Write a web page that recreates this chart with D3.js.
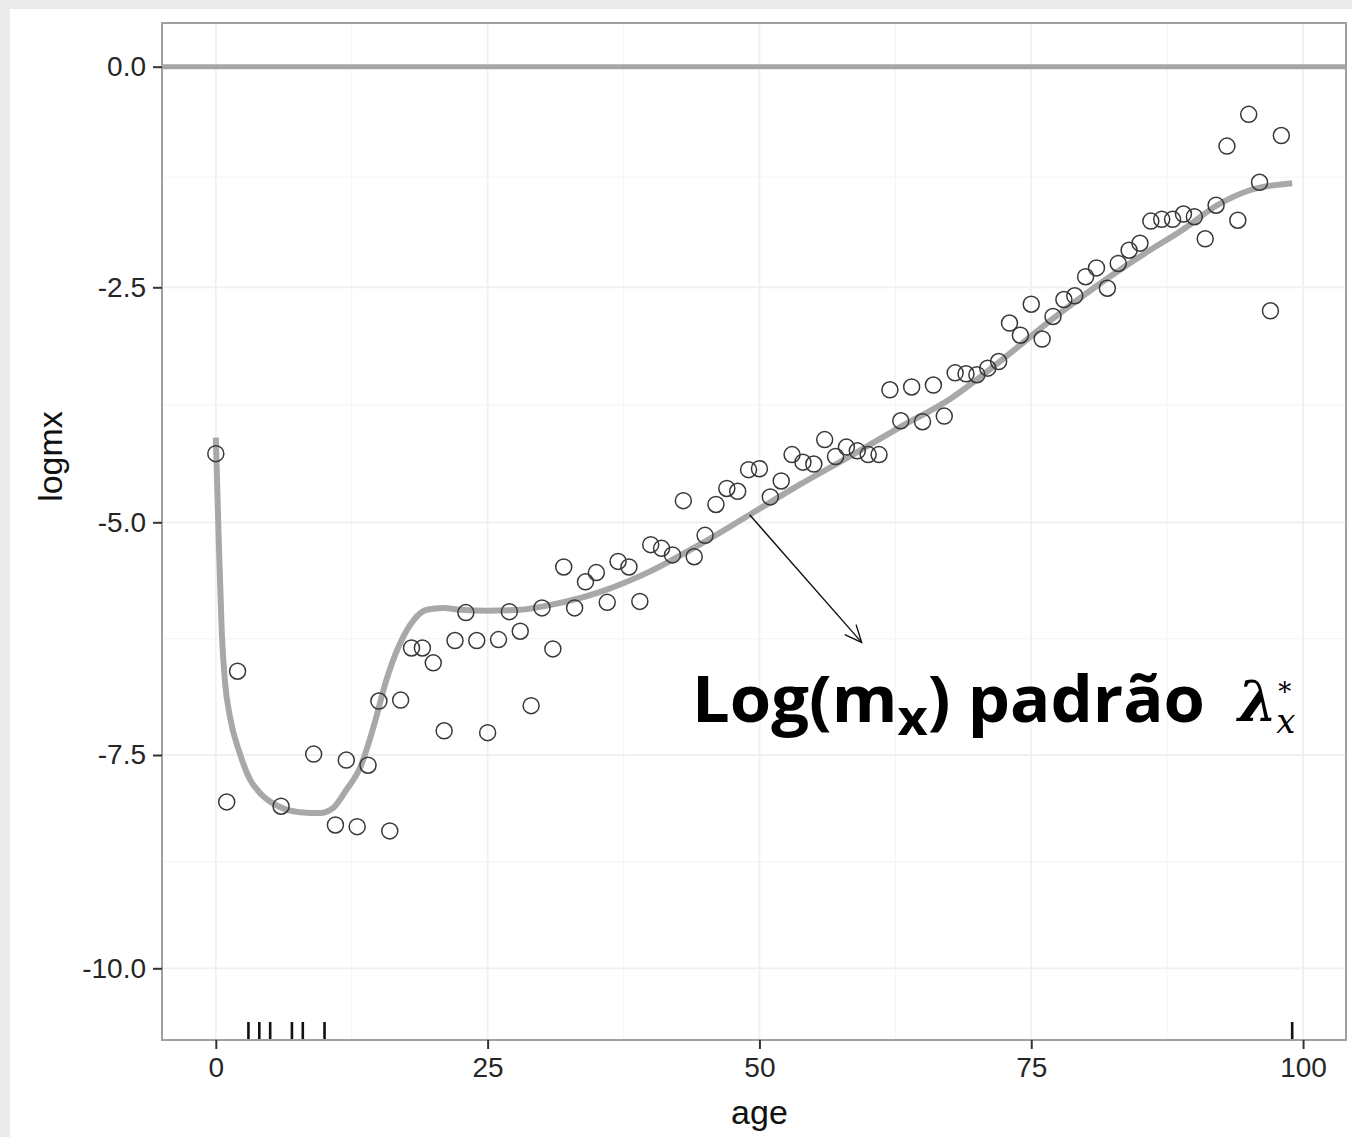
<!DOCTYPE html>
<html>
<head>
<meta charset="utf-8">
<script src="https://cdn.jsdelivr.net/npm/d3@7"></script>
<style>
  html, body { margin: 0; padding: 0; background: #ebebeb; }
  svg { display: block; }
</style>
</head>
<body>
<svg id="chart" width="1352" height="1137"></svg>
<script>
// Observed log death rates by single year of age (ages with zero deaths are shown as a rug)
const ages = [0, 1, 2, 6, 9,
  11, 12, 13, 14, 15, 16, 17, 18, 19, 20,
  21, 22, 23, 24, 25, 26, 27, 28, 29, 30,
  31, 32, 33, 34, 35, 36, 37, 38, 39, 40,
  41, 42, 43, 44, 45, 46, 47, 48, 49, 50,
  51, 52, 53, 54, 55, 56, 57, 58, 59, 60,
  61, 62, 63, 64, 65, 66, 67, 68, 69, 70,
  71, 72, 73, 74, 75, 76, 77, 78, 79, 80,
  81, 82, 83, 84, 85, 86, 87, 88, 89, 90,
  91, 92, 93, 94, 95, 96, 97, 98];
const logmx = [-4.27, -8.05, -6.60, -8.10, -7.49,
  -8.32, -7.56, -8.34, -7.62, -6.92, -8.39, -6.91, -6.35, -6.35, -6.51,
  -7.24, -6.27, -5.97, -6.27, -7.26, -6.26, -5.96, -6.17, -6.97, -5.92,
  -6.36, -5.48, -5.92, -5.64, -5.54, -5.86, -5.42, -5.48, -5.85, -5.24,
  -5.28, -5.35, -4.77, -5.37, -5.14, -4.81, -4.64, -4.67, -4.44, -4.43,
  -4.73, -4.56, -4.28, -4.36, -4.38, -4.12, -4.30, -4.20, -4.24, -4.28,
  -4.28, -3.59, -3.92, -3.56, -3.93, -3.54, -3.87, -3.41, -3.42, -3.43,
  -3.36, -3.29, -2.88, -3.01, -2.68, -3.05, -2.81, -2.63, -2.59, -2.38,
  -2.28, -2.51, -2.23, -2.08, -2.00, -1.75, -1.73, -1.73, -1.67, -1.70,
  -1.95, -1.57, -0.90, -1.74, -0.54, -1.31, -2.75, -0.78];

// Ages with no recorded deaths (log rate is -Inf)
const rugAges = [3, 4, 5, 7, 8, 10, 99];

// Standard (smoothed) log mortality schedule
const smoothAge = [0, 0.25, 0.55, 0.85, 1.3, 2.2, 3.15, 4.1, 5.9, 7.75, 9.6, 10.8,
  12, 13.3, 14.5, 15.7, 16.95, 18.2, 19.4, 20.9, 22.5, 25, 28, 30.7, 35.3,
  39.9, 44.5, 49.1, 53.7, 58.3, 62.9, 67.5, 72.1, 76.7, 81.3, 85.9, 88.9,
  92.1, 95.1, 99];
const smoothFit = [-4.10, -5.11, -6.19, -6.72, -7.09, -7.48, -7.79, -7.95, -8.11, -8.17, -8.18, -8.12,
  -7.91, -7.64, -7.20, -6.69, -6.30, -6.05, -5.94, -5.92, -5.94, -5.95, -5.94, -5.89, -5.75,
  -5.53, -5.24, -4.92, -4.60, -4.30, -3.99, -3.69, -3.29, -2.86, -2.46, -2.08, -1.85,
  -1.57, -1.40, -1.32];

const xTicks = [0, 25, 50, 75, 100];
const xMinor = [12.5, 37.5, 62.5, 87.5];
const yTicks = [0, -2.5, -5, -7.5, -10];
const yMinor = [-1.25, -3.75, -6.25, -8.75];
const refLevel = 0;

// Annotation anchors in data units
const arrowFrom = [49.1, -4.92];
const arrowTo = [59.4, -6.29];
const labelAt = [43.8, -7.15];

const svg = d3.select("#chart");

// white plate
svg.append("rect").attr("x", 10).attr("y", 9).attr("width", 1342).attr("height", 1128).attr("fill", "#ffffff");

const plot = { left: 162, right: 1346, top: 23, bottom: 1040 };

const x = d3.scaleLinear().domain([-4.95, 103.95]).range([plot.left, plot.right]);
const y = d3.scaleLinear()
  .domain([0.5, 0, -2.5, -5, -7.5, -10, -10.85])
  .range([plot.top, 66.7, 287.3, 522.3, 755, 968.3, plot.bottom]);

// grid
const grid = svg.append("g");
grid.selectAll(".vmin").data(xMinor).join("line")
  .attr("x1", d => x(d)).attr("x2", d => x(d)).attr("y1", plot.top).attr("y2", plot.bottom)
  .attr("stroke", "#f5f5f5").attr("stroke-width", 1.2);
grid.selectAll(".hmin").data(yMinor).join("line")
  .attr("y1", d => y(d)).attr("y2", d => y(d)).attr("x1", plot.left).attr("x2", plot.right)
  .attr("stroke", "#f5f5f5").attr("stroke-width", 1.2);
grid.selectAll(".vmaj").data(xTicks).join("line")
  .attr("x1", d => x(d)).attr("x2", d => x(d)).attr("y1", plot.top).attr("y2", plot.bottom)
  .attr("stroke", "#f0f0f0").attr("stroke-width", 1.8);
grid.selectAll(".hmaj").data(yTicks).join("line")
  .attr("y1", d => y(d)).attr("y2", d => y(d)).attr("x1", plot.left).attr("x2", plot.right)
  .attr("stroke", "#f0f0f0").attr("stroke-width", 1.8);

// reference line at zero
svg.append("line")
  .attr("x1", plot.left).attr("x2", plot.right)
  .attr("y1", y(refLevel)).attr("y2", y(refLevel))
  .attr("stroke", "#a6a6a6").attr("stroke-width", 5);

// smoothed schedule
const line = d3.line().x(d => x(d[0])).y(d => y(d[1])).curve(d3.curveMonotoneX);
svg.append("path")
  .datum(smoothAge.map((a, i) => [a, smoothFit[i]]))
  .attr("d", line)
  .attr("fill", "none")
  .attr("stroke", "#a8a8a8")
  .attr("stroke-width", 6);

// observed points
svg.append("g").selectAll("circle")
  .data(ages.map((a, i) => [a, logmx[i]]))
  .join("circle")
  .attr("cx", d => x(d[0])).attr("cy", d => y(d[1]))
  .attr("r", 8)
  .attr("fill", "none")
  .attr("stroke", "#383838")
  .attr("stroke-width", 1.5);

// rug for zero-death ages
svg.append("g").selectAll("line")
  .data(rugAges).join("line")
  .attr("x1", d => x(d)).attr("x2", d => x(d))
  .attr("y1", plot.bottom).attr("y2", plot.bottom - 18)
  .attr("stroke", "#111").attr("stroke-width", 2.6);

// panel border
svg.append("rect")
  .attr("x", plot.left).attr("y", plot.top)
  .attr("width", plot.right - plot.left).attr("height", plot.bottom - plot.top)
  .attr("fill", "none").attr("stroke", "#a0a0a0").attr("stroke-width", 2);

// axes
const fontAxis = "'Liberation Sans', Arial, sans-serif";
const xAxis = svg.append("g").attr("transform", `translate(0,${plot.bottom})`)
  .call(d3.axisBottom(x).tickValues(xTicks).tickSize(9).tickPadding(8).tickFormat(d3.format("d")));
const yAxis = svg.append("g").attr("transform", `translate(${plot.left},0)`)
  .call(d3.axisLeft(y).tickValues(yTicks).tickSize(9).tickPadding(7).tickFormat(d => d.toFixed(1)));
[xAxis, yAxis].forEach(g => {
  g.select(".domain").remove();
  g.selectAll(".tick line").attr("stroke", "#333").attr("stroke-width", 2);
  g.selectAll(".tick text").attr("fill", "#262626").attr("font-size", 28).attr("font-family", fontAxis);
});

// axis titles
svg.append("text")
  .attr("x", x(50)).attr("y", 1124)
  .attr("text-anchor", "middle")
  .attr("font-family", fontAxis).attr("font-size", 34).attr("fill", "#111")
  .text("age");
svg.append("text")
  .attr("transform", `translate(62,${y(-4.3)}) rotate(-90)`)
  .attr("text-anchor", "middle")
  .attr("font-family", fontAxis).attr("font-size", 34).attr("fill", "#111")
  .text("logmx");

// annotation arrow
const defs = svg.append("defs");
defs.append("marker")
  .attr("id", "openArrow")
  .attr("markerUnits", "userSpaceOnUse")
  .attr("viewBox", "-20 -10 22 20")
  .attr("refX", 0).attr("refY", 0)
  .attr("markerWidth", 22).attr("markerHeight", 20)
  .attr("orient", "auto")
  .append("path")
  .attr("d", "M-17,-7.5 L0,0 L-17,7.5")
  .attr("fill", "none").attr("stroke", "#111").attr("stroke-width", 1.4);

svg.append("line")
  .attr("x1", x(arrowFrom[0])).attr("y1", y(arrowFrom[1]))
  .attr("x2", x(arrowTo[0])).attr("y2", y(arrowTo[1]))
  .attr("stroke", "#111").attr("stroke-width", 1.4)
  .attr("marker-end", "url(#openArrow)");

// annotation label
const lx = x(labelAt[0]), ly = y(labelAt[1]);
const label = svg.append("text")
  .attr("x", lx).attr("y", ly)
  .attr("font-family", "'Open Sans', sans-serif")
  .attr("font-weight", 700)
  .attr("font-size", 64)
  .attr("fill", "#000");
label.append("tspan").text("Log(m");
label.append("tspan").attr("font-size", 50).attr("dy", 13).text("x");
label.append("tspan").attr("dy", -13).text(") padrão");
const targetW = 513;
const w = label.node().getComputedTextLength();
label.attr("transform", `translate(${lx},${ly}) scale(${targetW / w},1) translate(${-lx},${-ly})`);

// lambda with superscript star and subscript x, as one text run
const sym = svg.append("text")
  .attr("x", lx + 546).attr("y", ly - 1)
  .attr("font-family", "'DejaVu Serif', 'Liberation Serif', serif")
  .attr("font-style", "italic")
  .attr("fill", "#000");
sym.append("tspan").attr("font-size", 56).attr("font-weight", 700).text("λ");
const star = sym.append("tspan").attr("font-size", 26).attr("font-style", "normal").attr("dx", 1).attr("dy", -20).text("*");
const starW = star.node().getComputedTextLength();
sym.append("tspan").attr("font-size", 34).attr("dx", -starW - 2).attr("dy", 32).text("x");
</script>
</body>
</html>
